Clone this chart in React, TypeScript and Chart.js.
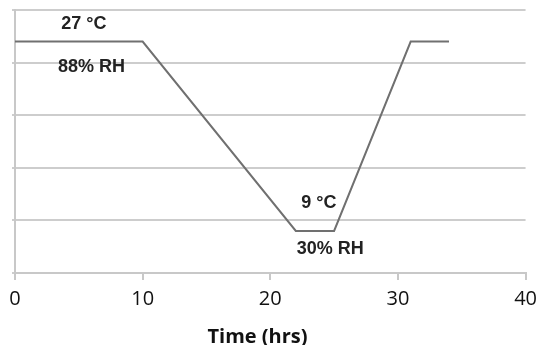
import React, { useEffect, useRef } from "react";
import { Chart, registerables } from "chart.js";

Chart.register(...registerables);

// Profile points (time in hours, arbitrary level units on 0..5 grid)
const timeHours = [0, 10, 22, 25, 31, 34];
const levels = [4.4, 4.4, 0.8, 0.8, 4.4, 4.4];

const xTicks = [0, 10, 20, 30, 40];
const xTitle = "Time (hrs)";

// Annotation labels placed in data coordinates
const noteTexts = ["27 °C", "88% RH", "9 °C", "30% RH"];
const noteX = [5.4, 6.0, 23.8, 24.7];
const noteY = [4.73, 3.92, 1.33, 0.46];

const notesPlugin = {
  id: "notes",
  afterDatasetsDraw(chart: any) {
    const { ctx, scales, chartArea } = chart;
    ctx.save();
    ctx.fillStyle = "#222222";
    ctx.font = "bold 18px 'Liberation Sans', Arial, sans-serif";
    ctx.textAlign = "center";
    ctx.textBaseline = "middle";
    noteTexts.forEach((t, i) => {
      ctx.fillText(t, scales.x.getPixelForValue(noteX[i]), scales.y.getPixelForValue(noteY[i]));
    });
    // axis title
    ctx.fillStyle = "#111111";
    ctx.font = "bold 20px 'Open Sans', sans-serif";
    ctx.textBaseline = "alphabetic";
    ctx.fillText(xTitle, chartArea.left + chartArea.width * 0.475, chartArea.bottom + 70);
    ctx.restore();
  },
};

export default function App() {
  const ref = useRef<HTMLCanvasElement>(null);
  useEffect(() => {
    document.body.style.margin = "0";
    const chart = new Chart(ref.current!, {
      type: "line",
      data: {
        datasets: [
          {
            data: timeHours.map((t, i) => ({ x: t, y: levels[i] })),
            borderColor: "#707070",
            borderWidth: 2,
            pointRadius: 0,
            tension: 0,
            fill: false,
          },
        ],
      },
      options: {
        responsive: false,
        animation: false,
        layout: { padding: { left: 12, right: 18, top: 10, bottom: 0 } },
        plugins: { legend: { display: false }, tooltip: { enabled: false } },
        scales: {
          x: {
            type: "linear",
            min: 0,
            max: 40,
            afterBuildTicks: (s: any) => {
              s.ticks = xTicks.map((v) => ({ value: v }));
            },
            afterFit: (s: any) => {
              s.height = 72;
            },
            ticks: {
              color: "#111111",
              font: { family: "'Open Sans', sans-serif", size: 20 },
              padding: 7,
              maxRotation: 0,
            },
            grid: { drawOnChartArea: false, drawTicks: true, tickLength: 7, color: "#c8c8c8", lineWidth: 2 },
            border: { display: true, color: "#c8c8c8", width: 2 },
          },
          y: {
            min: 0,
            max: 5,
            ticks: { display: false, stepSize: 1 },
            afterFit: (s: any) => {
              s.width = 3;
            },
            grid: { color: "#cdcdcd", lineWidth: 2, tickLength: 3, drawTicks: true },
            border: { display: true, color: "#c8c8c8", width: 2 },
          },
        },
      },
      plugins: [notesPlugin],
    });
    return () => chart.destroy();
  }, []);
  return (
    <div style={{ width: 544, height: 345, background: "#ffffff" }}>
      <canvas ref={ref} width={544} height={345} />
    </div>
  );
}
